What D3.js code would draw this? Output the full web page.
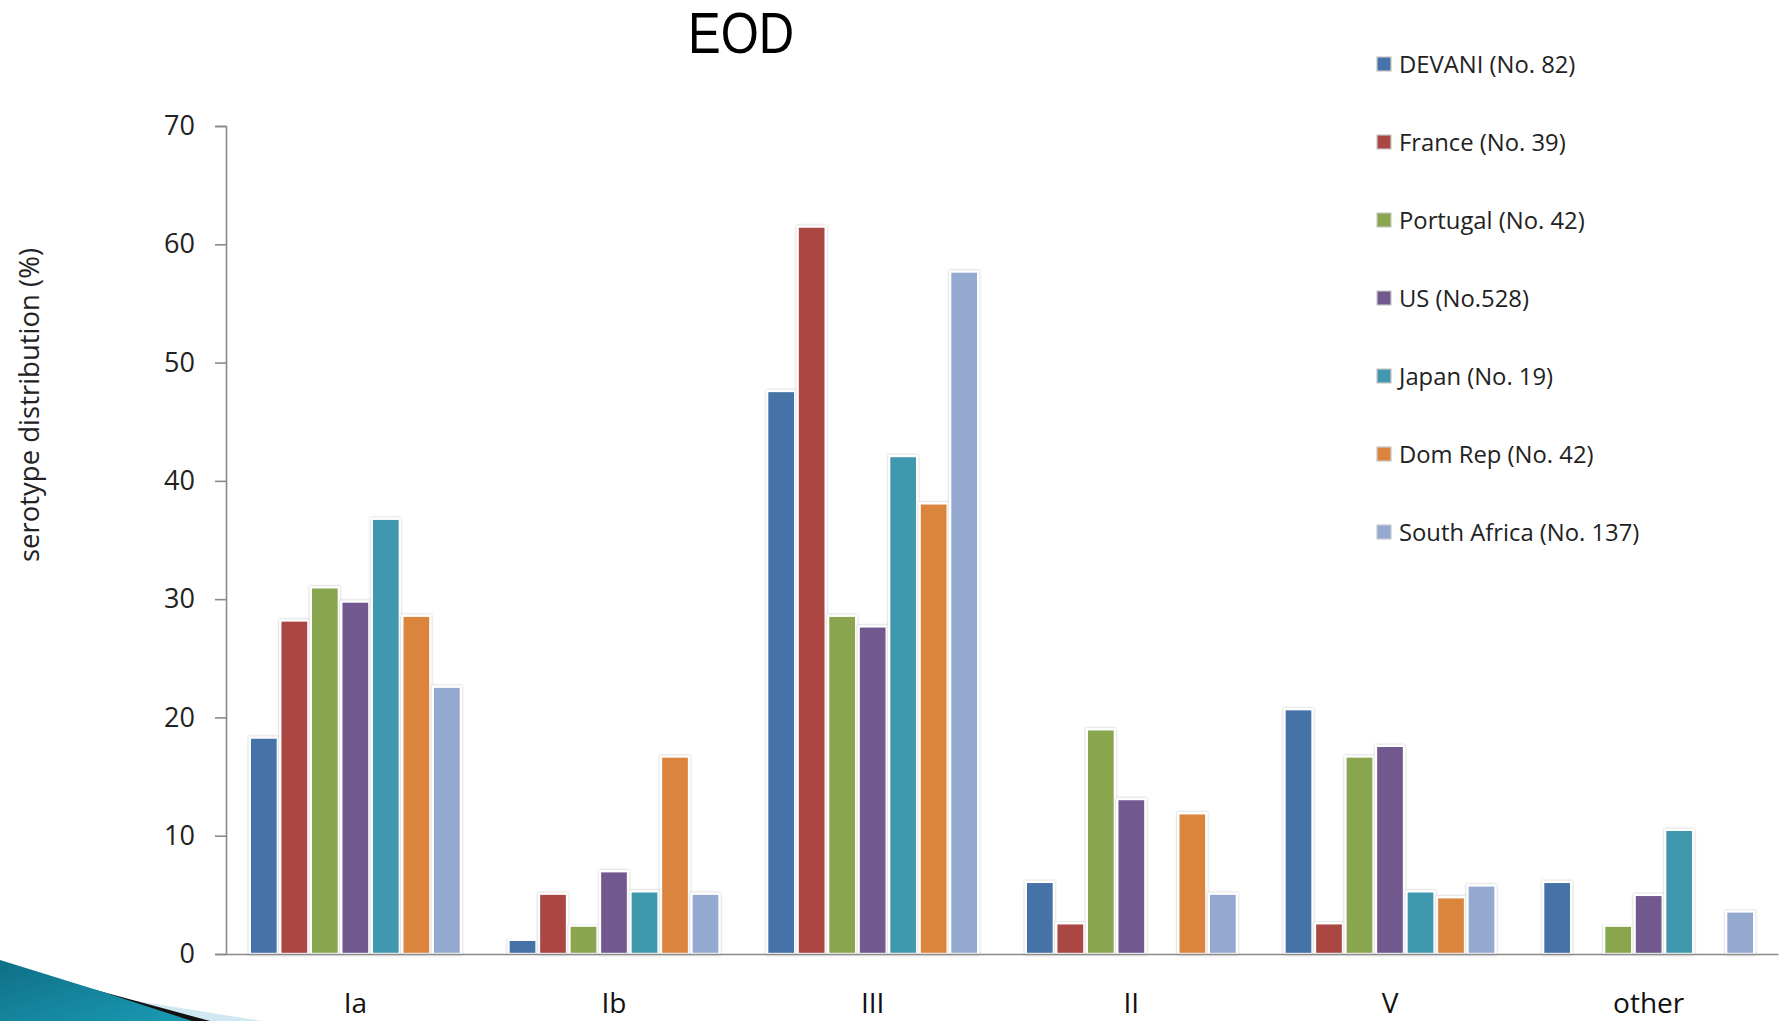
<!DOCTYPE html>
<html>
<head>
<meta charset="utf-8">
<script src="https://cdn.jsdelivr.net/npm/d3@7"></script>
<style>
  html, body { margin: 0; padding: 0; background: #ffffff; }
  svg { display: block; font-family: "Open Sans", "Noto Sans", sans-serif; }
</style>
</head>
<body>
<svg id="chart" width="1779" height="1021"></svg>
<script>
// Serotype distribution of early-onset disease isolates, by study
const categories = ["Ia", "Ib", "III", "II", "V", "other"];
const seriesNames = [
  "DEVANI (No. 82)",
  "France (No. 39)",
  "Portugal (No. 42)",
  "US (No.528)",
  "Japan (No. 19)",
  "Dom Rep (No. 42)",
  "South Africa (No. 137)"
];
const devani      = [18.3,  1.2, 47.6,  6.1, 20.7,  6.1];
const france      = [28.2,  5.1, 61.5,  2.6,  2.6,  0];
const portugal    = [31.0,  2.4, 28.6, 19.0, 16.7,  2.4];
const us          = [29.8,  7.0, 27.7, 13.1, 17.6,  5.0];
const japan       = [36.8,  5.3, 42.1,  0,    5.3, 10.5];
const domRep      = [28.6, 16.7, 38.1, 11.9,  4.8,  0];
const southAfrica = [22.6,  5.1, 57.7,  5.1,  5.8,  3.6];
const seriesValues = [devani, france, portugal, us, japan, domRep, southAfrica];
const yTicks = [0, 10, 20, 30, 40, 50, 60, 70];
const colors = ["#4572A7", "#AA4643", "#89A54E", "#71588F", "#4198AF", "#DB843D", "#93A9CF"];

const svg = d3.select("#chart");

// drop shadow for the bars
const defs = svg.append("defs");
const f = defs.append("filter").attr("id", "barShadow")
  .attr("x", "-20%").attr("y", "-5%").attr("width", "140%").attr("height", "110%");
f.append("feDropShadow").attr("dx", 0).attr("dy", 0).attr("stdDeviation", 1.1)
  .attr("flood-color", "#7a7a7a").attr("flood-opacity", 0.55);

const grad = defs.append("linearGradient").attr("id", "swoosh")
  .attr("x1", "0").attr("y1", "0").attr("x2", "1").attr("y2", "1");
grad.append("stop").attr("offset", "0").attr("stop-color", "#0f6f86");
grad.append("stop").attr("offset", "1").attr("stop-color", "#1a9ab4");

const plotLeft = 226, plotRight = 1778, plotTop = 126, plotBottom = 954;

const x0 = d3.scaleBand().domain(categories).range([plotLeft, plotRight]).padding(0);
const x1 = d3.scaleBand().domain(d3.range(seriesNames.length))
  .range([0, x0.bandwidth()]).paddingInner(0).paddingOuter(0.74);
const y = d3.scaleLinear().domain([0, 70]).range([plotBottom, plotTop]);

// title
svg.append("text")
  .attr("x", 741).attr("y", 53)
  .attr("text-anchor", "middle")
  .attr("font-family", "'Liberation Sans', Arial, sans-serif")
  .attr("font-size", 58)
  .attr("textLength", 106).attr("lengthAdjust", "spacingAndGlyphs")
  .attr("fill", "#000")
  .text("EOD");

// y axis
const yAxis = d3.axisLeft(y).tickValues(yTicks).tickSize(11).tickPadding(20)
  .tickFormat(d3.format("d"));
const gy = svg.append("g").attr("transform", `translate(${plotLeft},0)`).call(yAxis);
gy.select(".domain").attr("stroke", "#8a8a8a").attr("stroke-width", 1.6);
gy.selectAll(".tick line").attr("stroke", "#8a8a8a").attr("stroke-width", 1.6);
gy.selectAll(".tick text").attr("font-size", 27).attr("fill", "#222")
  .attr("font-family", "'Open Sans', sans-serif");

// bars
const groups = svg.append("g").selectAll("g")
  .data(categories)
  .join("g")
  .attr("transform", d => `translate(${x0(d)},0)`);

groups.selectAll("rect")
  .data((c, ci) => seriesValues.map((vals, si) => ({ si, v: vals[ci] })).filter(d => d.v > 0))
  .join("rect")
  .attr("x", d => x1(d.si) + 1.2)
  .attr("width", x1.bandwidth() - 2.4)
  .attr("y", d => y(d.v))
  .attr("height", d => y(0) - y(d.v))
  .attr("fill", d => colors[d.si])
  .attr("stroke", "#ffffff")
  .attr("stroke-width", 2.4)
  .attr("filter", "url(#barShadow)");

// x axis (baseline + category labels)
const xAxis = d3.axisBottom(x0).tickSize(0).tickPadding(0);
const gx = svg.append("g").attr("transform", `translate(0,${plotBottom})`).call(xAxis);
gx.select(".domain").attr("stroke", "#8a8a8a").attr("stroke-width", 1.6);
gx.selectAll(".tick text")
  .attr("font-size", 28).attr("fill", "#111")
  .attr("font-family", "'Open Sans', sans-serif")
  .attr("dy", null).attr("y", 59);

// y axis title
svg.append("text")
  .attr("transform", "translate(39,405) rotate(-90)")
  .attr("text-anchor", "middle")
  .attr("font-size", 27.5)
  .attr("fill", "#222")
  .text("serotype distribution (%)");

// legend
const legend = svg.append("g").selectAll("g")
  .data(seriesNames)
  .join("g")
  .attr("transform", (d, i) => `translate(1377,${64 + i * 78})`);
legend.append("rect")
  .attr("x", 0).attr("y", -7).attr("width", 14).attr("height", 14)
  .attr("fill", (d, i) => colors[i])
  .attr("stroke", "#c8c8c8").attr("stroke-width", 1.2);
legend.append("text")
  .attr("x", 22).attr("y", 8.5)
  .attr("font-size", 23.8)
  .attr("fill", "#222")
  .text(d => d);

// slide corner ornament
const orn = svg.append("g");
orn.append("path").attr("d", "M118,998 L262,1021 L150,1021 Z").attr("fill", "#cfe8f2");
orn.append("path").attr("d", "M92,989 L210,1021 L165,1021 Z").attr("fill", "#111");
orn.append("path").attr("d", "M0,960 L100,991 L192,1021 L0,1021 Z").attr("fill", "url(#swoosh)");
</script>
</body>
</html>
